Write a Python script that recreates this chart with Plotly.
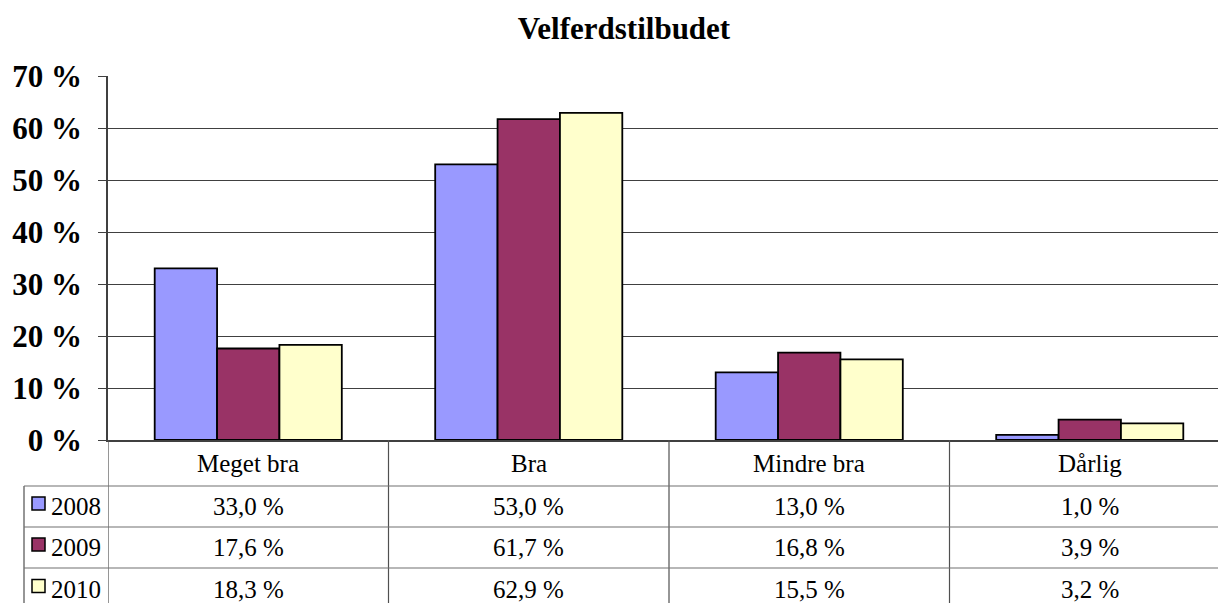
import plotly.graph_objects as go

# ---- data ----
categories = ["Meget bra", "Bra", "Mindre bra", "Dårlig"]
years = ["2008", "2009", "2010"]
values_2008 = [33.0, 53.0, 13.0, 1.0]
values_2009 = [17.6, 61.7, 16.8, 3.9]
values_2010 = [18.3, 62.9, 15.5, 3.2]
series = [values_2008, values_2009, values_2010]
colors = ["#9999FF", "#993366", "#FFFFCC"]
title_text = "Velferdstilbudet"

# ---- layout geometry (pixels) ----
W, H = 1218, 603
ML, MR, MT, MB = 108, 0, 76, 163
PW, PH = W - ML - MR, H - MT - MB
cat_w = 280.5  # pixel width of one category column
x_max = -0.5 + PW / cat_w

def py(pix):  # figure pixel y -> paper y
    return (H - MB - pix) / PH

def px(pix):  # figure pixel x -> paper x
    return (pix - ML) / PW

row_lines = [486, 527, 568]
row_bottom = 612
row_centers = [463, 506.5, 547.5, 589]
legend_left = 24
key_x0, key_size = 32, 13
label_x = 49

SERIF = "Liberation Serif"

fig = go.Figure()
for yr, vals, col in zip(years, series, colors):
    fig.add_trace(go.Bar(
        x=categories, y=vals, name=yr,
        marker=dict(color=col, line=dict(color="black", width=1.8)),
        hoverinfo="x+y+name",
    ))

annotations = []
shapes = []
# category header row
for c in categories:
    annotations.append(dict(x=c, xref="x", y=py(row_centers[0]), yref="paper",
                            text=c, showarrow=False, xanchor="center", yanchor="middle",
                            font=dict(family=SERIF, size=25, color="black")))
# value rows with legend keys
for r, (yr, vals, col) in enumerate(zip(years, series, colors)):
    yc = row_centers[r + 1]
    for c, v in zip(categories, vals):
        annotations.append(dict(x=c, xref="x", y=py(yc), yref="paper",
                                text=f"{v:.1f}".replace(".", ",") + " %", showarrow=False,
                                xanchor="center", yanchor="middle",
                                font=dict(family=SERIF, size=25, color="black")))
    # legend key + label
    annotations.append(dict(x=px(label_x), xref="paper", y=py(yc), yref="paper",
                            text=yr, showarrow=False, xanchor="left", yanchor="middle",
                            xshift=0,
                            font=dict(family=SERIF, size=25, color="black")))
    ky = yc - 3
    shapes.append(dict(type="rect", xref="paper", yref="paper",
                       x0=px(key_x0), x1=px(key_x0 + key_size),
                       y0=py(ky - key_size / 2), y1=py(ky + key_size / 2),
                       fillcolor=col, line=dict(color="black", width=1.5)))

# vertical dividers through the table
for i in range(len(categories)):
    shapes.append(dict(type="line", xref="x", yref="paper", x0=i - 0.5, x1=i - 0.5,
                       y0=0, y1=py(row_bottom), line=dict(color="#505050", width=1.2)))
# legend column left border
shapes.append(dict(type="line", xref="paper", yref="paper", x0=px(legend_left), x1=px(legend_left),
                   y0=py(row_lines[0]), y1=py(row_bottom), line=dict(color="#505050", width=1.2)))
# horizontal row lines
for rl in row_lines:
    shapes.append(dict(type="line", xref="paper", yref="paper", x0=px(legend_left), x1=1,
                       y0=py(rl), y1=py(rl), line=dict(color="#707070", width=1.2)))

fig.update_layout(
    width=W, height=H, autosize=False,
    margin=dict(l=ML, r=MR, t=MT, b=MB, pad=0),
    paper_bgcolor="white", plot_bgcolor="white",
    barmode="group", bargap=0.333, bargroupgap=0,
    showlegend=False,
    title=dict(text=title_text, x=624 / W, xref="container", xanchor="center",
               y=1 - 28 / H, yref="container", yanchor="middle",
               font=dict(family=SERIF, size=31, color="black", weight="bold")),
    xaxis=dict(range=[-0.5, x_max], showticklabels=False, ticks="", showgrid=False,
               showline=True, linecolor="#404040", linewidth=1.5, zeroline=False,
               fixedrange=True),
    yaxis=dict(range=[0, 70], dtick=10, ticksuffix=" %", ticks="outside", ticklen=8,
               tickcolor="#404040", tickwidth=1.2, ticklabelstandoff=10,
               showgrid=True, gridcolor="#404040", gridwidth=1,
               showline=True, linecolor="#404040", linewidth=1.5, zeroline=False,
               tickfont=dict(family=SERIF, size=31, color="black", weight="bold"),
               fixedrange=True),
    annotations=annotations,
    shapes=shapes,
)

fig.write_html("out.html", config={"displayModeBar": False},
               post_script="document.body.style.margin='0px';document.body.style.overflow='hidden';")
